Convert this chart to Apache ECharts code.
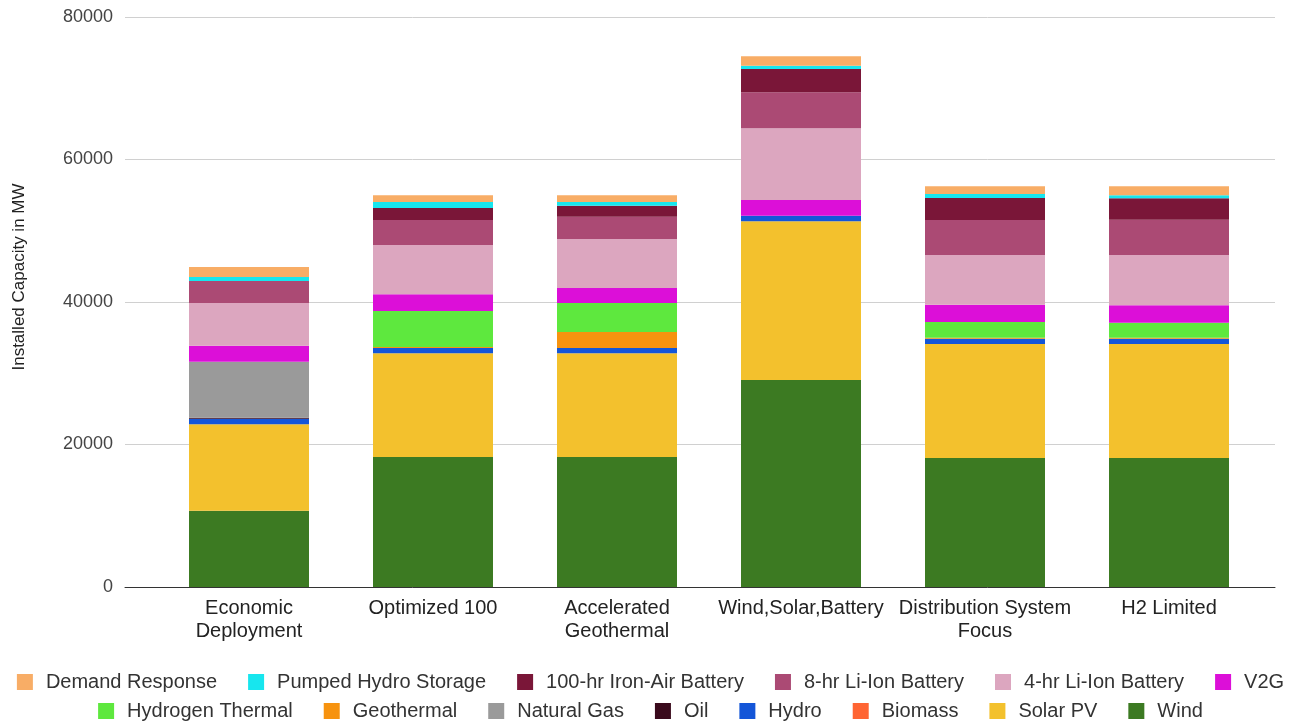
<!DOCTYPE html>
<html>
<head>
<meta charset="utf-8">
<script src="https://cdn.jsdelivr.net/npm/echarts@6/dist/echarts.min.js"></script>
<style>
  html, body { margin: 0; padding: 0; background: #ffffff; }
  #chart { width: 1301px; height: 724px; }
</style>
</head>
<body>
<div id="chart"></div>
<script>
// Scenario names on the category axis
const categories = ['Economic\nDeployment', 'Optimized 100', 'Accelerated\nGeothermal', 'Wind,Solar,Battery', 'Distribution System\nFocus', 'H2 Limited'];

// Installed capacity per resource (MW), one value per scenario
const wind      = [10700, 18250, 18250, 29050, 18100, 18100];
const solarPV   = [12150, 14550, 14550, 22300, 16000, 16000];
const biomass   = [0, 0, 0, 0, 0, 0];
const hydro     = [750, 750, 750, 750, 750, 750];
const oil       = [150, 0, 0, 0, 0, 0];
const naturalGas = [7850, 0, 0, 0, 0, 0];
const geothermal = [0, 150, 2250, 0, 150, 150];
const hydrogenThermal = [0, 5050, 4050, 0, 2200, 2100];
const v2g       = [2250, 2350, 2100, 2200, 2400, 2450];
const liIon4    = [6000, 6900, 6900, 10100, 7000, 7050];
const liIon8    = [3100, 3500, 3100, 5050, 4900, 4950];
const ironAir100 = [0, 1700, 1550, 3250, 3100, 3000];
const pumpedHydro = [550, 850, 550, 450, 550, 450];
const demandResponse = [1400, 950, 950, 1350, 1100, 1250];

// Value axis ticks
const yTicks = [0, 20000, 40000, 60000, 80000];

// Stack order, bottom to top
const stackSeries = [
  ['Wind', wind, '#3c7a22'],
  ['Solar PV', solarPV, '#f3c12d'],
  ['Biomass', biomass, '#ff6533'],
  ['Hydro', hydro, '#1456d8'],
  ['Oil', oil, '#3a0a1c'],
  ['Natural Gas', naturalGas, '#9a9a9a'],
  ['Geothermal', geothermal, '#f7930f'],
  ['Hydrogen Thermal', hydrogenThermal, '#5ee83e'],
  ['V2G', v2g, '#dc0fd8'],
  ['4-hr Li-Ion Battery', liIon4, '#dca6bf'],
  ['8-hr Li-Ion Battery', liIon8, '#ab4a74'],
  ['100-hr Iron-Air Battery', ironAir100, '#7a1638'],
  ['Pumped Hydro Storage', pumpedHydro, '#17e6ee'],
  ['Demand Response', demandResponse, '#f8ad66']
];

const legendRow1 = ['Demand Response', 'Pumped Hydro Storage', '100-hr Iron-Air Battery', '8-hr Li-Ion Battery', '4-hr Li-Ion Battery', 'V2G'];
const legendRow2 = ['Hydrogen Thermal', 'Geothermal', 'Natural Gas', 'Oil', 'Hydro', 'Biomass', 'Solar PV', 'Wind'];

const FONT = '"Liberation Sans", Arial, sans-serif';
const yMin = yTicks[0], yMax = yTicks[yTicks.length - 1], yStep = yTicks[1] - yTicks[0];

const legendCommon = {
  left: 'center',
  icon: 'rect',
  itemWidth: 16,
  itemHeight: 16,
  itemGap: 31,
  textStyle: { fontFamily: FONT, fontSize: 20, color: '#333333', padding: [0, 0, 0, 8] },
  selectedMode: false
};

const option = {
  animation: false,
  backgroundColor: '#ffffff',
  grid: [
    // wide grid: gridlines, value labels and baseline
    { left: 125, right: 26, top: 17, bottom: 137 },
    // inner grid: the bars
    { left: 157, right: 40, top: 17, bottom: 137 }
  ],
  graphic: [
    {
      type: 'text',
      x: 19,
      y: 277,
      rotation: Math.PI / 2,
      style: {
        text: 'Installed Capacity in MW',
        font: '17px ' + FONT,
        fill: '#222222',
        textAlign: 'center',
        textVerticalAlign: 'middle'
      }
    }
  ],
  legend: [
    Object.assign({ top: 667, data: legendRow1 }, legendCommon),
    Object.assign({ top: 696, data: legendRow2 }, legendCommon)
  ],
  xAxis: [
    {
      gridIndex: 0, type: 'value', min: 0, max: 1,
      axisLine: { show: true, onZero: false, lineStyle: { color: '#333333', width: 1 } },
      axisTick: { show: false }, axisLabel: { show: false }, splitLine: { show: false }
    },
    {
      gridIndex: 1, type: 'category', data: categories,
      axisLine: { show: false }, axisTick: { show: false },
      axisLabel: {
        margin: 10, interval: 0, fontFamily: FONT, fontSize: 20, lineHeight: 23, color: '#222222'
      }
    }
  ],
  yAxis: [
    {
      gridIndex: 0, type: 'value', min: yMin, max: yMax, interval: yStep,
      axisLine: { show: false }, axisTick: { show: false },
      axisLabel: {
        margin: 12, fontFamily: FONT, fontSize: 18, color: '#444444',
        formatter: (v) => String(v)
      },
      splitLine: { lineStyle: { color: '#d0d0d0', width: 1 } }
    },
    {
      gridIndex: 1, type: 'value', min: yMin, max: yMax, interval: yStep, show: false,
      splitLine: { show: false }
    }
  ],
  series: stackSeries.map(([name, data, color]) => ({
    name: name,
    type: 'bar',
    stack: 'capacity',
    xAxisIndex: 1,
    yAxisIndex: 1,
    barWidth: 120,
    itemStyle: { color: color },
    data: data
  }))
};

const chart = echarts.init(document.getElementById('chart'), null, { renderer: 'canvas' });
chart.setOption(option);
</script>
</body>
</html>
